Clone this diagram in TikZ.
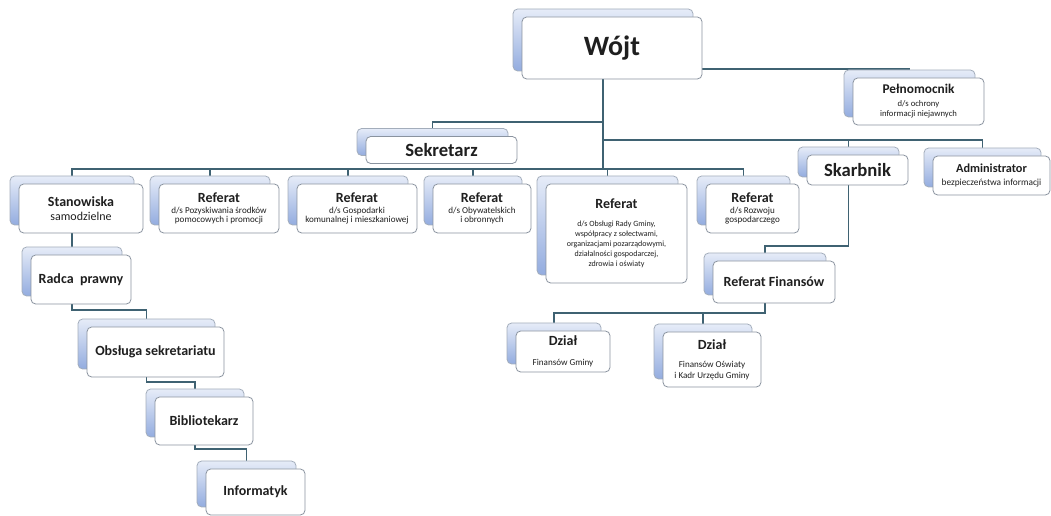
\documentclass[tikz,border=0pt]{standalone}
\usepackage{fontspec}
\setmainfont{Carlito}
\usepackage{tikz}
\usetikzlibrary{backgrounds}
\definecolor{cardline}{HTML}{8A939F}
\definecolor{backline}{HTML}{A3ADBB}
\definecolor{backtop}{HTML}{E6ECF8}
\definecolor{backbot}{HTML}{93ACDF}
\definecolor{connblue}{HTML}{3F6272}
\definecolor{inkgray}{HTML}{1F1F1F}
\newcommand\headfnt{\bfseries\fontsize{10.5}{12}\selectfont}
\newcommand\subfnt{\fontsize{6.8}{6.6}\selectfont}
\tikzset{
  card/.style={draw=cardline, line width=0.6pt, fill=white, rounded corners=3.5pt, inner sep=1pt,
    align=center, text=inkgray, font=\subfnt,
    preaction={draw=backline, top color=backtop, bottom color=backbot,
      transform canvas={xshift=-6.75pt, yshift=6pt}}},
  wh/.style 2 args={minimum width=#1*0.75pt, minimum height=#2*0.75pt},
  conn/.style={draw=connblue, line width=1.4pt},
}

\begin{document}
\begin{tikzpicture}[x=0.75pt, y=-0.75pt]
\useasboundingbox (0,0) rectangle (1051,516);
% head of the office
\node[card, wh={180}{62}, font=\bfseries\fontsize{21}{24}\selectfont] (wojt) at (612,48) {Wójt};
\node[card, wh={131}{47}, font=\fontsize{6.5}{7.5}\selectfont] (pelnom) at (918.5,101.5)
  {{\bfseries\fontsize{10}{12}\selectfont Pełnomocnik}\\[2.2pt]d/s ochrony\\informacji niejawnych};
\node[card, wh={151}{27}, font=\bfseries\fontsize{14}{16}\selectfont] (sek) at (441.5,150) {Sekretarz};
\node[card, wh={101}{30}, font=\bfseries\fontsize{14}{16}\selectfont] (skarb) at (857.5,170) {Skarbnik};
\node[card, wh={117}{39}, font=\fontsize{7}{7.5}\selectfont] (admin) at (991.5,175.5)
  {{\bfseries\fontsize{9.2}{11}\selectfont Administrator}\\[2.2pt]bezpieczeństwa informacji};
% referaty
\node[card, wh={124}{49}, font=\fontsize{9}{11}\selectfont] (stan) at (81,208.5) {{\headfnt Stanowiska}\\samodzielne};
\node[card, wh={120}{49}] (pozysk) at (219,208.5) {{\headfnt Referat}\\[1.4pt]d/s Pozyskiwania środków\\pomocowych i promocji};
\node[card, wh={120}{49}] (gosp) at (357,208.5) {{\headfnt Referat}\\[1.4pt]d/s Gospodarki\\komunalnej i mieszkaniowej};
\node[card, wh={98}{49}] (obyw) at (482,208.5) {{\headfnt Referat}\\[1.4pt]d/s Obywatelskich\\i obronnych};
\node[card, wh={141}{99}, font=\fontsize{6}{7.5}\selectfont] (obsl) at (616.5,233.5)
  {{\headfnt Referat}\\[6pt]d/s Obsługi Rady Gminy,\\współpracy z sołectwami,\\organizacjami pozarządowymi,\\działalności gospodarczej,\\zdrowia i oświaty};
\node[card, wh={93}{49}] (rozw) at (752.5,208.5) {{\headfnt Referat}\\[1.4pt]d/s Rozwoju\\gospodarczego};
% finanse
\node[card, wh={122}{42}, font=\headfnt] (fin) at (774,282) {Referat Finansów};
\node[card, wh={94}{41}, font=\fontsize{6.8}{8}\selectfont] (dz1) at (563,351.5) {{\headfnt Dział}\\[7pt]Finansów Gminy};
\node[card, wh={98}{55}, font=\fontsize{6.8}{8}\selectfont] (dz2) at (712,359.5) {{\headfnt Dział}\\[6pt]Finansów Oświaty\\i Kadr Urzędu Gminy};
% stanowiska samodzielne
\node[card, wh={100}{49}, font=\headfnt] (radca) at (81,279.5) {Radca\ \ prawny};
\node[card, wh={137}{50}, font=\headfnt] (obs) at (155.5,352) {Obsługa sekretariatu};
\node[card, wh={98}{48}, font=\headfnt] (bib) at (204,421) {Bibliotekarz};
\node[card, wh={99}{46}, font=\headfnt] (inf) at (255.5,492) {Informatyk};

\begin{scope}[on background layer]
  \coordinate (ebus) at (603,122);
  \coordinate (abus) at (603,140);
  \coordinate (sbus) at (603,169);
  \draw[conn] ([xshift=-6.75pt]wojt.south) -- (sbus);
  \draw[conn] ([yshift=7.5pt]wojt.south east) -| ([xshift=-6.75pt]pelnom.north);
  \draw[conn] (ebus) -| ([xshift=-6.75pt]sek.north);
  \foreach \c in {skarb,admin}
    \draw[conn] (abus) -| ([xshift=-6.75pt]\c.north);
  \foreach \c in {stan,pozysk,gosp,obyw,obsl,rozw}
    \draw[conn] (sbus) -| ([xshift=-6.75pt]\c.north);
  \draw[conn] ([xshift=-6.75pt]skarb.south) -- ++(0,61) -| ([xshift=-6.75pt]fin.north);
  \foreach \c in {dz1,dz2}
    \draw[conn] ([xshift=-6.75pt]fin.south) -- ++(0,10) -| ([xshift=-6.75pt]\c.north);
  \draw[conn] ([xshift=-6.75pt]stan.south) -- ([xshift=-6.75pt]radca.north);
  \draw[conn] ([xshift=-6.75pt]radca.south) -- ++(0,6) -| ([xshift=-6.75pt]obs.north);
  \draw[conn] ([xshift=-6.75pt]obs.south) -- ++(0,5) -| ([xshift=-6.75pt]bib.north);
  \draw[conn] ([xshift=-6.75pt]bib.south) -- ++(0,4) -| ([xshift=-6.75pt]inf.north);
\end{scope}
\end{tikzpicture}
\end{document}
